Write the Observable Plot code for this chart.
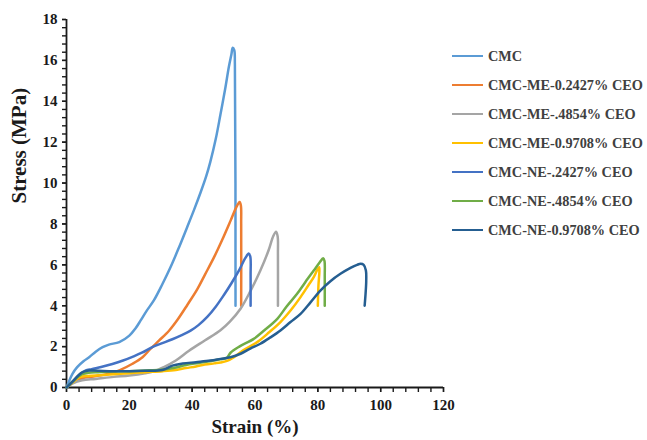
<!DOCTYPE html>
<html>
<head>
<meta charset="utf-8">
<script src="https://cdn.jsdelivr.net/npm/d3@7"></script>
<script src="https://cdn.jsdelivr.net/npm/@observablehq/plot@0.6"></script>
<style>
  html, body { margin: 0; padding: 0; background: #fff; }
  #wrap { position: relative; width: 647px; height: 440px; }
  #legend { position: absolute; left: 452px; top: 0; font-family: "Liberation Serif", "Times New Roman", serif; font-weight: bold; font-size: 14.3px; color: #404040; }
  .item { position: absolute; left: 0; white-space: nowrap; display: flex; align-items: center; height: 20px; }
  .sw { display: inline-block; width: 31px; height: 2.5px; margin-right: 5px; }
</style>
</head>
<body>
<div id="wrap"></div>
<script>
// Series names and colours
const names = ["CMC", "CMC-ME-0.2427% CEO", "CMC-ME-.4854% CEO", "CMC-ME-0.9708% CEO", "CMC-NE-.2427% CEO", "CMC-NE-.4854% CEO", "CMC-NE-0.9708% CEO"];
const colors = ["#5B9BD5", "#ED7D31", "#A5A5A5", "#FFC000", "#4472C4", "#70AD47", "#255E91"];

// Strain (%) / Stress (MPa)
const cmcX = [0, 1.9, 3.4, 5.5, 7.2, 9.3, 11.5, 13.5, 16.8, 20, 22, 23.6, 25.5, 27.8, 30.5, 33.1, 35.8, 38.4, 40.5, 42.7, 44.5, 45.8, 47.5, 49, 50.5, 51.7, 52.5, 52.9, 53.4, 53.6, 53.8];
const cmcY = [0, 0.67, 1.0, 1.3, 1.48, 1.75, 1.97, 2.1, 2.22, 2.54, 2.9, 3.28, 3.75, 4.26, 5.05, 5.88, 6.85, 7.84, 8.65, 9.55, 10.35, 11.05, 12.15, 13.35, 14.6, 15.7, 16.3, 16.62, 16.5, 15.8, 4.0];

const me1X = [0, 2, 5, 8, 11, 13.6, 17, 21, 24.2, 26.8, 29.5, 32.7, 35.5, 38.5, 41.6, 44, 46.9, 49.5, 52.2, 54, 55.1, 55.5, 55.6, 55.6];
const me1Y = [0, 0.25, 0.45, 0.53, 0.6, 0.67, 0.85, 1.16, 1.48, 1.9, 2.3, 2.79, 3.35, 4.05, 4.8, 5.5, 6.35, 7.2, 8.15, 8.8, 9.07, 8.9, 8.0, 4.0];

const me2X = [0, 2, 5, 9.3, 15, 20, 25, 28, 31, 34.8, 39, 44, 49, 52, 55.4, 58.5, 61.7, 64.3, 65.8, 66.7, 67.2, 67.3, 67.3];
const me2Y = [0, 0.2, 0.35, 0.42, 0.52, 0.59, 0.7, 0.8, 1.0, 1.32, 1.8, 2.3, 2.8, 3.22, 3.85, 4.7, 5.72, 6.7, 7.4, 7.62, 7.4, 6.5, 4.0];

const me3X = [0, 2, 4, 6, 9.3, 15, 20, 25, 30.6, 34.8, 38, 41.2, 44, 47, 49, 51.1, 53.3, 56, 60.7, 64.5, 68.1, 71.5, 74.5, 77, 78.7, 79.8, 80.4, 80.5, 80.2, 80.0];
const me3Y = [0, 0.25, 0.5, 0.56, 0.59, 0.65, 0.7, 0.75, 0.8, 0.86, 0.95, 1.03, 1.12, 1.18, 1.22, 1.3, 1.48, 1.8, 2.22, 2.7, 3.2, 3.8, 4.42, 5.0, 5.4, 5.75, 5.88, 5.7, 5.0, 4.0];

const ne1X = [0, 2, 4, 6, 8, 11, 14.6, 18, 21, 24, 27.3, 30.5, 33.7, 36.5, 39.5, 42, 44.8, 47.5, 50, 52.5, 55, 56.8, 58, 58.5, 58.6, 58.6];
const ne1Y = [0, 0.3, 0.6, 0.82, 0.9, 1.0, 1.15, 1.32, 1.5, 1.7, 1.98, 2.17, 2.36, 2.55, 2.78, 3.05, 3.45, 3.95, 4.5, 5.1, 5.75, 6.3, 6.55, 6.4, 5.5, 4.0];

const ne2X = [0, 2, 3.5, 5, 7, 10, 15, 20, 25, 30, 34, 38, 42, 46, 49, 51, 52.2, 55, 59.6, 63, 67.1, 70, 73.4, 76, 78.7, 80.5, 81.7, 82.1, 82.2, 82.2];
const ne2Y = [0, 0.3, 0.5, 0.65, 0.72, 0.75, 0.78, 0.8, 0.83, 0.87, 0.95, 1.1, 1.2, 1.3, 1.38, 1.45, 1.7, 2.0, 2.38, 2.8, 3.36, 3.95, 4.58, 5.15, 5.72, 6.1, 6.32, 6.2, 5.4, 4.0];

const ne3X = [0, 2, 3.5, 5.1, 7.2, 10, 15, 20, 25, 30.6, 33.7, 37, 41.2, 45.8, 49, 52.2, 55.4, 58.5, 61.7, 64.9, 68.1, 71.3, 74.5, 77.6, 80.8, 84, 87.2, 90.4, 92.5, 93.6, 94.6, 95.3, 95.4, 95.2, 94.9];
const ne3Y = [0, 0.3, 0.55, 0.75, 0.83, 0.82, 0.8, 0.8, 0.82, 0.86, 1.07, 1.17, 1.24, 1.32, 1.4, 1.48, 1.65, 1.9, 2.14, 2.45, 2.79, 3.2, 3.6, 4.15, 4.74, 5.2, 5.56, 5.85, 6.0, 6.05, 6.0, 5.72, 5.2, 4.6, 4.0];

const xMajor = [0, 20, 40, 60, 80, 100, 120];
const yMajor = [0, 2, 4, 6, 8, 10, 12, 14, 16, 18];

const seriesX = [cmcX, me1X, me2X, me3X, ne1X, ne2X, ne3X];
const seriesY = [cmcY, me1Y, me2Y, me3Y, ne1Y, ne2Y, ne3Y];
const rows = names.flatMap((n, k) => seriesX[k].map((x, i) => ({ name: n, x, y: seriesY[k][i] })));

const xMinor = d3.range(0, 120.001, 4);
const yMinor = d3.range(0, 18.001, 0.4).map(v => +v.toFixed(1));

const chart = Plot.plot({
  width: 647,
  height: 440,
  marginLeft: 66,
  marginRight: 204,
  marginTop: 19,
  marginBottom: 53,
  style: { fontFamily: "'Liberation Serif', 'Times New Roman', serif", fontWeight: "bold", fontSize: "15px", color: "#1a1a1a", background: "#fff" },
  x: { domain: [0, 120] },
  y: { domain: [0, 18] },
  color: { domain: names, range: colors },
  marks: [
    Plot.axisX({ ticks: xMinor, tickFormat: () => "", tickSize: 5, strokeWidth: 1.4, label: null }),
    Plot.axisX({ ticks: xMajor, tickFormat: d => String(d), tickSize: 5, tickPadding: 7, strokeWidth: 1.4, label: null }),
    Plot.axisY({ ticks: yMinor, tickFormat: () => "", tickSize: 4, strokeWidth: 1.4, label: null }),
    Plot.axisY({ ticks: yMajor, tickFormat: d => String(d), tickSize: 4, tickPadding: 5, strokeWidth: 1.4, label: null }),
    Plot.ruleX([0], { stroke: "#1a1a1a", strokeWidth: 1.8 }),
    Plot.ruleY([0], { stroke: "#1a1a1a", strokeWidth: 1.8 }),
    Plot.line(rows, { x: "x", y: "y", z: "name", stroke: "name", strokeWidth: 2.5, curve: "catmull-rom" }),
    Plot.text(["Strain (%)"], { frameAnchor: "bottom", dy: 45, fontSize: 19, fontWeight: "bold", fill: "#1a1a1a" }),
    Plot.text(["Stress (MPa)"], { frameAnchor: "left", dx: -47, rotate: -90, fontSize: 21, fontWeight: "bold", fill: "#1a1a1a" })
  ]
});

const wrap = document.getElementById("wrap");
wrap.appendChild(chart);

const legend = document.createElement("div");
legend.id = "legend";
const tops = [56, 85, 114, 143, 172, 201, 230];
names.forEach((n, i) => {
  const item = document.createElement("div");
  item.className = "item";
  item.style.top = (tops[i] - 10) + "px";
  const sw = document.createElement("span");
  sw.className = "sw";
  sw.style.background = colors[i];
  const t = document.createElement("span");
  t.textContent = n;
  item.appendChild(sw);
  item.appendChild(t);
  legend.appendChild(item);
});
wrap.appendChild(legend);
</script>
</body>
</html>
